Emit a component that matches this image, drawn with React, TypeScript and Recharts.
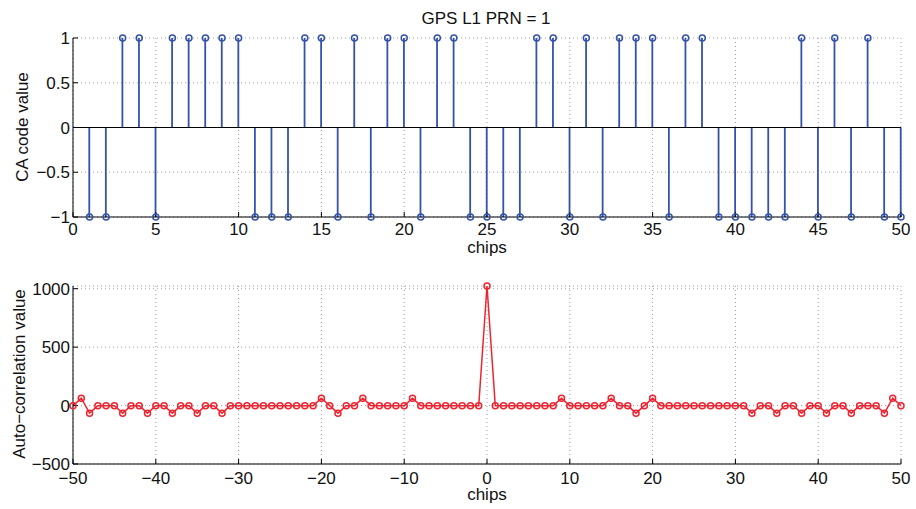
import {
  ComposedChart,
  Bar,
  Line,
  XAxis,
  YAxis,
  CartesianGrid,
  ReferenceLine,
} from 'recharts';

// C/A code chips for PRN 1 (first 50 chips, +1 / -1)
const caChips = [
  1, 2, 3, 4, 5, 6, 7, 8, 9, 10, 11, 12, 13, 14, 15, 16, 17, 18, 19, 20, 21, 22, 23, 24, 25,
  26, 27, 28, 29, 30, 31, 32, 33, 34, 35, 36, 37, 38, 39, 40, 41, 42, 43, 44, 45, 46, 47, 48, 49, 50,
];
const caValues = [
  -1, -1, 1, 1, -1, 1, 1, 1, 1, 1, -1, -1, -1, 1, 1, -1, 1, -1, 1, 1, -1, 1, 1, -1, -1,
  -1, -1, 1, 1, -1, 1, -1, 1, 1, 1, -1, 1, 1, -1, -1, -1, -1, -1, 1, -1, 1, -1, 1, -1, -1,
];
const caXTicks = [0, 5, 10, 15, 20, 25, 30, 35, 40, 45, 50];
const caYTicks = [-1, -0.5, 0, 0.5, 1];

// Auto-correlation, lags -50..50
const corrLags = [
  -50, -49, -48, -47, -46, -45, -44, -43, -42, -41, -40, -39, -38, -37, -36, -35, -34, -33, -32, -31,
  -30, -29, -28, -27, -26, -25, -24, -23, -22, -21, -20, -19, -18, -17, -16, -15, -14, -13, -12, -11,
  -10, -9, -8, -7, -6, -5, -4, -3, -2, -1, 0, 1, 2, 3, 4, 5, 6, 7, 8, 9,
  10, 11, 12, 13, 14, 15, 16, 17, 18, 19, 20, 21, 22, 23, 24, 25, 26, 27, 28, 29,
  30, 31, 32, 33, 34, 35, 36, 37, 38, 39, 40, 41, 42, 43, 44, 45, 46, 47, 48, 49, 50,
];
const corrValues = [
  -1, 63, -65, -1, -1, -1, -65, -1, -1, -65, -1, -1, -65, -1, -1, -65, -1, -1, -65, -1,
  -1, -1, -1, -1, -1, -1, -1, -1, -1, -1, 63, -1, -65, -1, -1, 63, -1, -1, -1, -1,
  -1, 63, -1, -1, -1, -1, -1, -1, -1, -1, 1023, -1, -1, -1, -1, -1, -1, -1, -1, 63,
  -1, -1, -1, -1, -1, 63, -1, -1, -65, -1, 63, -1, -1, -1, -1, -1, -1, -1, -1, -1,
  -1, -1, -65, -1, -1, -65, -1, -1, -65, -1, -1, -65, -1, -1, -65, -1, -1, -1, -65, 63, -1,
];
const corrXTicks = [-50, -40, -30, -20, -10, 0, 10, 20, 30, 40, 50];
const corrYTicks = [-500, 0, 500, 1000];

const BLUE = '#3353aa';
const RED = '#ee2530';
const GRID = '#a0a0a0';
const TEXT = '#111';
const FONT = 17;

const caData = caChips.map((chip, i) => ({ chip, value: caValues[i] }));
const corrData = corrLags.map((lag, i) => ({ lag, value: corrValues[i] }));

// use a real minus sign like the original
const fmt = (v: number) => String(v).replace('-', '\u2212');
const blank = () => '';

function Stem(props: any) {
  const { x, y, width, height } = props;
  if (x == null || y == null) return null;
  const cx = x + width / 2;
  return <line x1={cx} x2={cx} y1={y} y2={y + height} stroke={BLUE} strokeWidth={1.8} />;
}

// plain text labels; lineHeight kept tight so the boxes hug the glyphs
function AxisText({ x, y, text, rotate }: { x: number; y: number; text: string; rotate?: boolean }) {
  return (
    <div
      style={{
        position: 'absolute',
        left: x,
        top: y,
        transform: rotate ? 'translate(-50%, -50%) rotate(-90deg)' : 'translate(-50%, 0)',
        fontSize: FONT,
        lineHeight: '13px',
        whiteSpace: 'nowrap',
        color: TEXT,
      }}
    >
      {text}
    </div>
  );
}

export default function App() {
  const tickStyle = { fill: TEXT, fontSize: FONT };
  return (
    <div
      style={{
        position: 'absolute',
        left: 0,
        top: 0,
        width: 916,
        height: 509,
        background: '#fff',
        fontFamily: '"Liberation Sans", Arial, Helvetica, sans-serif',
      }}
    >
      <div style={{ position: 'absolute', left: 0, top: 0 }}>
        <ComposedChart
          width={916}
          height={260}
          data={caData}
          margin={{ top: 38, right: 15, bottom: 13, left: 13 }}
        >
          <CartesianGrid stroke={GRID} strokeDasharray="1 3" />
          <XAxis
            dataKey="chip"
            type="number"
            domain={[0, 50]}
            ticks={caXTicks}
            interval={0}
            height={30}
            tickSize={-5}
            tickMargin={11}
            stroke="#000"
            tick={tickStyle}
            tickFormatter={fmt}
          />
          <XAxis
            xAxisId="top"
            orientation="top"
            dataKey="chip"
            type="number"
            domain={[0, 50]}
            ticks={caXTicks}
            interval={0}
            height={0}
            tickSize={-5}
            stroke="#000"
            tickFormatter={blank}
          />
          <YAxis
            type="number"
            domain={[-1, 1]}
            ticks={caYTicks}
            interval={0}
            width={60}
            tickSize={-5}
            tickMargin={8}
            stroke="#000"
            tick={tickStyle}
            tickFormatter={fmt}
          />
          <YAxis
            yAxisId="right"
            orientation="right"
            type="number"
            domain={[-1, 1]}
            ticks={caYTicks}
            interval={0}
            width={0}
            tickSize={-5}
            stroke="#000"
            tickFormatter={blank}
          />
          <ReferenceLine y={0} stroke="#000" strokeWidth={1.2} />
          <Bar dataKey="value" barSize={2} shape={(p: any) => <Stem {...p} />} isAnimationActive={false} />
          <Line
            dataKey="value"
            stroke="none"
            dot={{ r: 3, stroke: BLUE, strokeWidth: 1.5, fill: 'none' }}
            activeDot={false}
            isAnimationActive={false}
          />
        </ComposedChart>
      </div>

      <div style={{ position: 'absolute', left: 0, top: 260 }}>
        <ComposedChart
          width={916}
          height={249}
          data={corrData}
          margin={{ top: 26, right: 15, bottom: 15, left: 13 }}
        >
          <CartesianGrid stroke={GRID} strokeDasharray="1 3" />
          <XAxis
            dataKey="lag"
            type="number"
            domain={[-50, 50]}
            ticks={corrXTicks}
            interval={0}
            height={30}
            tickSize={-5}
            tickMargin={13}
            stroke="#000"
            tick={tickStyle}
            tickFormatter={fmt}
          />
          <XAxis
            xAxisId="top"
            orientation="top"
            dataKey="lag"
            type="number"
            domain={[-50, 50]}
            ticks={corrXTicks}
            interval={0}
            height={0}
            tickSize={-5}
            stroke="#000"
            tickFormatter={blank}
          />
          <YAxis
            type="number"
            domain={[-500, 1023]}
            ticks={corrYTicks}
            interval={0}
            width={60}
            tickSize={-5}
            tickMargin={8}
            stroke="#000"
            tick={tickStyle}
            tickFormatter={fmt}
          />
          <YAxis
            yAxisId="right"
            orientation="right"
            type="number"
            domain={[-500, 1023]}
            ticks={corrYTicks}
            interval={0}
            width={0}
            tickSize={-5}
            stroke="#000"
            tickFormatter={blank}
          />
          <Line
            type="linear"
            dataKey="value"
            stroke={RED}
            strokeWidth={1.5}
            dot={{ r: 3, stroke: RED, strokeWidth: 1.5, fill: 'none' }}
            activeDot={false}
            isAnimationActive={false}
          />
        </ComposedChart>
      </div>

      <AxisText x={486} y={12} text="GPS L1 PRN = 1" />
      <AxisText x={487} y={241} text="chips" />
      <AxisText x={487} y={488} text="chips" />
      <AxisText x={22} y={127} text="CA code value" rotate />
      <AxisText x={19} y={374} text={'Auto\u2212correlation value'} rotate />
    </div>
  );
}
